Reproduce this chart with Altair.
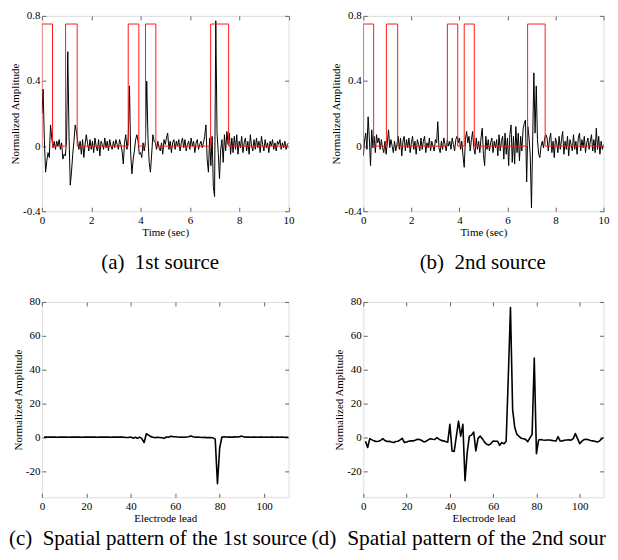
import altair as alt
import pandas as pd

# ---------------- data ----------------
time_s = [round(i * 0.05, 2) for i in range(201)]

src1 = [0.20, 0.35, 0.04, -0.16, -0.09, -0.04, -0.07, 0.13, 0.05, -0.01,
        0.03, -0.02, 0.03, 0.00, 0.04, -0.02, 0.02, -0.08, -0.05, -0.06,
        0.03, 0.58, 0.06, -0.24, -0.16, -0.05, 0.03, 0.13, 0.09, 0.03,
        -0.02, 0.03, -0.05, 0.04, -0.07, 0.01, 0.07, 0.02, -0.03, 0.04,
        -0.02, 0.03, -0.04, 0.05, 0.00, -0.03, 0.04, -0.06, 0.03, 0.01,
        -0.02, 0.05, -0.01, 0.03, -0.03, 0.04, 0.00, -0.02, 0.03, -0.01,
        0.04, 0.01, -0.02, 0.04, 0.01, -0.03, -0.11, 0.02, 0.07, -0.02,
        0.05, 0.37, -0.05, -0.17, -0.08, -0.03, 0.04, 0.07, 0.03, -0.05,
        -0.04, -0.07, 0.02, -0.03, 0.03, 0.40, 0.05, -0.10, -0.16, -0.05,
        0.07, 0.03, 0.02, -0.02, 0.03, -0.01, -0.03, 0.02, -0.05, 0.04,
        0.01, 0.05, 0.08, -0.02, 0.03, -0.04, 0.02, 0.04, -0.02, 0.03,
        0.00, 0.04, -0.03, 0.02, 0.05, -0.01, 0.04, -0.03, 0.01, 0.03,
        -0.02, 0.05, 0.00, 0.03, -0.04, 0.02, 0.04, -0.02, 0.01, 0.03,
        -0.01, 0.02, 0.06, 0.13, -0.08, -0.16, 0.05, -0.12, 0.06, -0.25,
        -0.31, 0.77, 0.08, -0.04, -0.20, -0.02, 0.04, -0.10, 0.07, -0.03,
        0.09, 0.01, 0.08, -0.05, 0.05, -0.04, 0.06, -0.02, 0.07, -0.05,
        0.03, -0.01, 0.06, -0.04, 0.02, 0.05, -0.03, 0.03, -0.05, 0.07,
        0.00, -0.03, 0.04, -0.02, 0.05, -0.01, 0.03, -0.04, 0.06, 0.01,
        -0.03, 0.04, -0.01, 0.02, -0.04, 0.03, 0.00, 0.04, -0.02, 0.02,
        -0.03, 0.03, 0.01, 0.04, -0.02, 0.02, -0.01, 0.03, -0.02, 0.01,
        0.02]

src2 = [-0.06, 0.03, 0.08, -0.02, 0.18, 0.05, -0.12, 0.10, -0.01, 0.06,
        -0.04, 0.07, 0.02, 0.05, -0.02, 0.04, -0.01, -0.04, 0.03, -0.05,
        0.02, 0.10, -0.01, 0.04, 0.00, -0.04, 0.03, -0.03, 0.01, 0.06,
        -0.02, 0.05, -0.06, 0.03, 0.06, -0.03, 0.04, -0.01, 0.05, -0.04,
        0.02, 0.06, -0.02, 0.03, -0.05, 0.04, 0.01, -0.03, 0.05, -0.02,
        0.03, 0.06, -0.04, 0.02, -0.01, 0.05, -0.03, 0.03, 0.00, -0.03,
        0.04, 0.02, 0.15, -0.01, -0.04, 0.03, -0.02, 0.05, 0.01, -0.03,
        0.04, 0.00, 0.03, -0.02, 0.05, 0.01, -0.03, 0.04, 0.06, 0.02,
        0.05, -0.02, 0.03, -0.06, -0.13, 0.04, 0.09, 0.02, 0.06, -0.03,
        0.04, 0.09, -0.01, -0.05, 0.05, -0.02, 0.03, -0.04, 0.05, 0.11,
        -0.05, -0.12, 0.06, -0.02, 0.04, -0.03, 0.02, 0.05, -0.04, 0.03,
        -0.01, 0.04, -0.06, 0.07, -0.03, 0.03, 0.06, -0.08, 0.08, -0.05,
        0.05, -0.12, 0.07, 0.13, -0.10, 0.06, -0.11, 0.12, -0.04, 0.08,
        -0.09, 0.06, -0.03, 0.10, 0.14, 0.16, -0.22, 0.12, 0.05, -0.06,
        -0.38, 0.03, 0.45, 0.08, 0.37, 0.04, -0.05, -0.07, 0.00, 0.03,
        -0.01, 0.05, 0.07, 0.05, -0.03, 0.04, 0.08, -0.04, 0.03, -0.07,
        0.05, 0.02, -0.04, 0.06, -0.02, 0.04, 0.09, -0.05, 0.03, -0.02,
        0.06, -0.06, 0.04, 0.01, -0.03, 0.07, -0.02, 0.03, -0.05, 0.05,
        0.08, -0.03, 0.04, -0.01, 0.06, -0.04, 0.02, 0.05, -0.02, 0.03,
        0.07, -0.03, 0.04, -0.04, 0.11, -0.02, 0.06, -0.05, 0.03, -0.02,
        0.01]

pulse_on = [0.0, 0.96, 3.50, 4.20, 6.84]
pulse_off = [0.43, 1.43, 3.93, 4.62, 7.57]
pulse_level = 0.75

leads = list(range(1, 112))

pattern1 = [0.4, 0.5, 0.4, 0.4, 0.5, 0.4, 0.3, 0.4, 0.5, 0.4,
            0.4, 0.3, 0.4, 0.4, 0.5, 0.4, 0.4, 0.3, 0.4, 0.4,
            0.5, 0.4, 0.4, 0.4, 0.3, 0.4, 0.4, 0.5, 0.4, 0.4,
            0.3, 0.4, 0.4, 0.5, 0.4, 0.4, 0.3, 0.2, 0.2, 0.5,
            -0.2, 0.3, -0.3, 0.4, -0.5, -2.8, 2.4, 1.6, 0.7, 0.3,
            0.1, 0.3, 0.2, 0.0, -0.3, 0.5, 0.3, 0.9, 0.7, 0.6,
            0.5, 0.3, 0.4, 0.3, 0.5, 0.6, 1.1, 0.6, 0.3, 0.4,
            0.3, 0.2, 0.3, 0.1, 0.2, 0.1, 0.0, -0.8, -27.0, -6.0,
            0.5, 0.6, 0.5, 0.4, 0.5, 0.4, 0.6, 0.5, 0.7, 1.0,
            0.5, 0.4, 0.4, 0.3, 0.4, 0.4, 0.3, 0.4, 0.4, 0.3,
            0.4, 0.3, 0.4, 0.4, 0.3, 0.4, 0.3, 0.4, 0.3, 0.3,
            0.3]

pattern2 = [-2.0, -5.7, -0.5, -1.2, -1.8, -2.2, -2.0, -1.5, -0.5, -1.6,
            -2.2, -2.0, -2.5, -2.8, -2.2, -2.0, -1.2, -0.3, -2.8, -2.4,
            -2.0, -1.8, -1.8, -1.4, -0.9, -1.0, -1.6, -2.4, -2.0, -1.2,
            -0.5, -0.8, -1.0, 0.1, -0.8, -1.5, -1.8, -2.2, -2.6, 7.9,
            -7.7, -8.0, 1.0, 9.8, 1.0, 7.9, -25.3, -8.7, 1.0, 1.6,
            3.4, -7.7, -0.3, 1.0, -0.5, -2.5, -3.8, -4.2, -3.4, -1.9,
            -2.0, -2.0, -4.4, -2.8, -3.5, -2.0, 36.0, 76.7, 16.6, 5.9,
            2.0, 0.8, -0.3, -0.6, -0.9, -2.3, 0.0, 2.0, 46.9, -9.3,
            -1.3, -1.0, -1.3, -1.4, -1.3, -1.3, -1.5, -1.7, -1.9, 0.7,
            -1.9, -1.8, -1.4, -1.3, -1.2, -1.4, -0.5, 2.5, -0.5, -3.4,
            -2.0, -1.0, -0.8, -1.2, -1.6, -1.8, -2.0, -2.4, -2.0, -0.8,
            0.1]

time_ticks = [0, 2, 4, 6, 8, 10]
amp_ticks = [-0.4, -0.2, 0, 0.2, 0.4, 0.6, 0.8]
lead_ticks = [0, 20, 40, 60, 80, 100]
pat_ticks = [-20, 0, 20, 40, 60, 80]

captions = ["(a)\u00a0 1st source", "(b)\u00a0 2nd source",
            "(c)\u00a0 Spatial pattern of the 1st source",
            "(d)\u00a0 Spatial pattern of the 2nd source"]

# --------------- tables ---------------
sig_df = pd.DataFrame({"t": time_s, "s1": src1, "s2": src2})
pat_df = pd.DataFrame({"lead": leads, "p1": pattern1, "p2": pattern2})

step_t, step_v = [], []
for on, off in zip(pulse_on, pulse_off):
    step_t += [on, on, off, off]
    step_v += [0, pulse_level, pulse_level, 0]
step_t.append(time_s[-1])
step_v.append(0)
step_df = pd.DataFrame({"t": step_t, "v": step_v, "i": list(range(len(step_t)))})

FONT = "Liberation Serif"
W_LEFT, W_RIGHT, H = 247.5, 241, 196
TICK = 4


def axis_main(orient, ticks, title, tpad, lpad, span):
    # short dashed grid lines = inward tick marks on both opposite edges
    return alt.Axis(orient=orient, values=ticks, tickSize=0, domain=False,
                    grid=True, gridDash=[TICK, span - 2 * TICK], gridColor="#666",
                    gridWidth=1, gridOpacity=1,
                    labelExpr="'' + datum.value", labelFont=FONT, labelFontSize=11,
                    labelColor="black", labelPadding=lpad, labelFlush=False,
                    labelOverlap=False, title=title, titleFont=FONT, titleFontSize=11,
                    titleFontWeight="normal", titleColor="black", titlePadding=tpad,
                    minExtent=0)


def panel(df, xf, yf, xdom, ydom, xticks, yticks, xtitle, caption, dx, cap_off,
          cap_size, lw, width, extra=None, limit=0):
    xs = alt.Scale(domain=xdom, nice=False, zero=False)
    ys = alt.Scale(domain=ydom, nice=False, zero=False)
    main = alt.Chart(df).mark_line(color="black", strokeWidth=lw, clip=True,
                                   strokeJoin="round").encode(
        x=alt.X(f"{xf}:Q", scale=xs, axis=axis_main("bottom", xticks, xtitle, 1, 3, H)),
        y=alt.Y(f"{yf}:Q", scale=ys,
                axis=axis_main("left", yticks, "Normalized Amplitude", 2, 2, width)),
    )
    layers = [main]
    if extra is not None:
        layers.append(
            alt.Chart(extra).mark_line(color="#ff1a1a", strokeWidth=1, clip=True,
                                       strokeJoin="round").encode(
                x=alt.X("t:Q", scale=xs),
                y=alt.Y("v:Q", scale=ys),
                order=alt.Order("i:Q"),
            )
        )
    tkw = dict(orient="bottom", anchor="start", frame="group", font=FONT,
               fontSize=cap_size, fontWeight="normal", color="black",
               offset=cap_off, dx=dx)
    if limit:
        tkw["limit"] = limit
    return alt.layer(*layers).properties(
        width=width, height=H, title=alt.TitleParams(caption, **tkw),
    )


pa = panel(sig_df, "t", "s1", [0, 10], [-0.4, 0.8], time_ticks, amp_ticks,
           "Time (sec)", captions[0], 59.5, 15, 21, 1, W_LEFT, step_df)
pb = panel(sig_df, "t", "s2", [0, 10], [-0.4, 0.8], time_ticks, amp_ticks,
           "Time (sec)", captions[1], 56.5, 15, 21, 1, W_RIGHT, step_df)
pc = panel(pat_df, "lead", "p1", [0, 111], [-35, 80], lead_ticks, pat_ticks,
           "Electrode lead", captions[2], -33, 5, 21, 1.6, W_LEFT)
pd_ = panel(pat_df, "lead", "p2", [0, 111], [-35, 80], lead_ticks, pat_ticks,
            "Electrode lead", captions[3], -52, 5, 21.5, 1.6, W_RIGHT, limit=298)

chart = alt.concat(pa, pb, pc, pd_, columns=2, spacing={"row": 91, "column": 74.5}).properties(
    bounds="flush", padding={"left": 0, "top": 0, "right": 0, "bottom": 0}
).configure_view(stroke="#777", strokeWidth=1).configure(
    background="white", style={"group-title": {"ellipsis": "\u200b"}}
)

chart.save("out.html", embed_options={"renderer": "svg", "actions": False})
